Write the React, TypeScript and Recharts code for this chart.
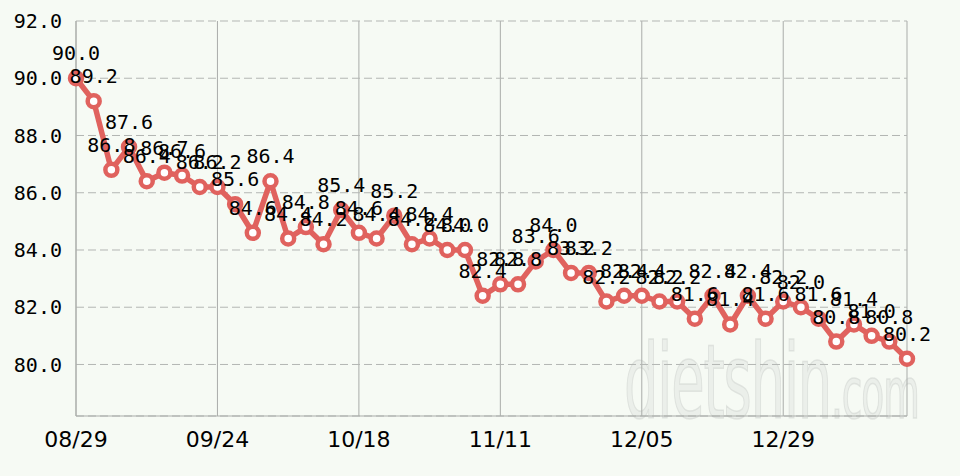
import { CartesianGrid, LabelList, Line, LineChart, XAxis, YAxis } from "recharts";

// weigh-ins, one every ~3 days
const weights = [
  90.0, 89.2, 86.8, 87.6, 86.4, 86.7, 86.6, 86.2, 86.2, 85.6, 84.6, 86.4,
  84.4, 84.8, 84.2, 85.4, 84.6, 84.4, 85.2, 84.2, 84.4, 84.0, 84.0, 82.4,
  82.8, 82.8, 83.6, 84.0, 83.2, 83.2, 82.2, 82.4, 82.4, 82.2, 82.2, 81.6,
  82.4, 81.4, 82.4, 81.6, 82.2, 82.0, 81.6, 80.8, 81.4, 81.0, 80.8, 80.2,
];

const tickIndexes = [0, 8, 16, 24, 32, 40];
const tickLabels = ["08/29", "09/24", "10/18", "11/11", "12/05", "12/29"];
const yTicks = [80, 82, 84, 86, 88, 90, 92];

const data = weights.map((weight, i) => ({ idx: i, weight }));

const LINE = "#e0625e";
const BG = "#f6faf4";

export default function App() {
  return (
    <div style={{ position: "absolute", left: 0, top: 0, width: 960, height: 476, background: BG }}>
      {/* faint site watermark */}
      <div
        style={{
          position: "absolute",
          left: 624,
          top: 342,
          fontFamily: "'Liberation Sans Narrow', 'DejaVu Sans Condensed', sans-serif",
          fontSize: 104,
          lineHeight: "80px",
          color: "rgba(225, 230, 225, 0.55)",
          WebkitTextStroke: "1.5px rgba(205, 210, 205, 0.5)",
          letterSpacing: -2,
          transform: "scaleX(0.58)",
          transformOrigin: "left top",
          whiteSpace: "nowrap",
        }}
      >
        dietshin<span style={{ fontSize: 72 }}>.com</span>
      </div>
      <LineChart
        width={960}
        height={476}
        data={data}
        margin={{ top: 21, right: 53, bottom: 10, left: 0 }}
        style={{ position: "absolute", left: 0, top: 0 }}
      >
        <CartesianGrid horizontal={false} stroke="#a9aca9" strokeWidth={1} />
        <CartesianGrid vertical={false} stroke="#b3b6b3" strokeDasharray="8 4" />
        <XAxis
          dataKey="idx"
          type="number"
          domain={[0, weights.length - 1]}
          ticks={tickIndexes}
          tickFormatter={(v: number) => tickLabels[tickIndexes.indexOf(v)] ?? ""}
          height={50}
          tickLine={false}
          tickMargin={9}
          axisLine={{ stroke: "#a9aca9" }}
          tick={{ fill: "#000", fontSize: 22, fontFamily: "'DejaVu Sans', sans-serif" }}
        />
        <YAxis
          domain={[78.2, 92]}
          ticks={yTicks}
          tickFormatter={(v: number) => v.toFixed(1)}
          width={76}
          tickLine={false}
          tickMargin={8}
          axisLine={{ stroke: "#a9aca9" }}
          tick={{ fill: "#000", fontSize: 20, fontFamily: "'DejaVu Sans Mono', monospace" }}
        />
        <Line
          type="linear"
          dataKey="weight"
          stroke={LINE}
          strokeWidth={5.5}
          dot={{ r: 6, stroke: LINE, strokeWidth: 4.5, fill: "#ffffff" }}
          activeDot={false}
          isAnimationActive={false}
        >
          <LabelList
            dataKey="weight"
            position="top"
            offset={18}
            formatter={(v: number) => v.toFixed(1)}
            style={{ fill: "#000", fontSize: 20, fontFamily: "'DejaVu Sans Mono', monospace" }}
          />
        </Line>
      </LineChart>
    </div>
  );
}
